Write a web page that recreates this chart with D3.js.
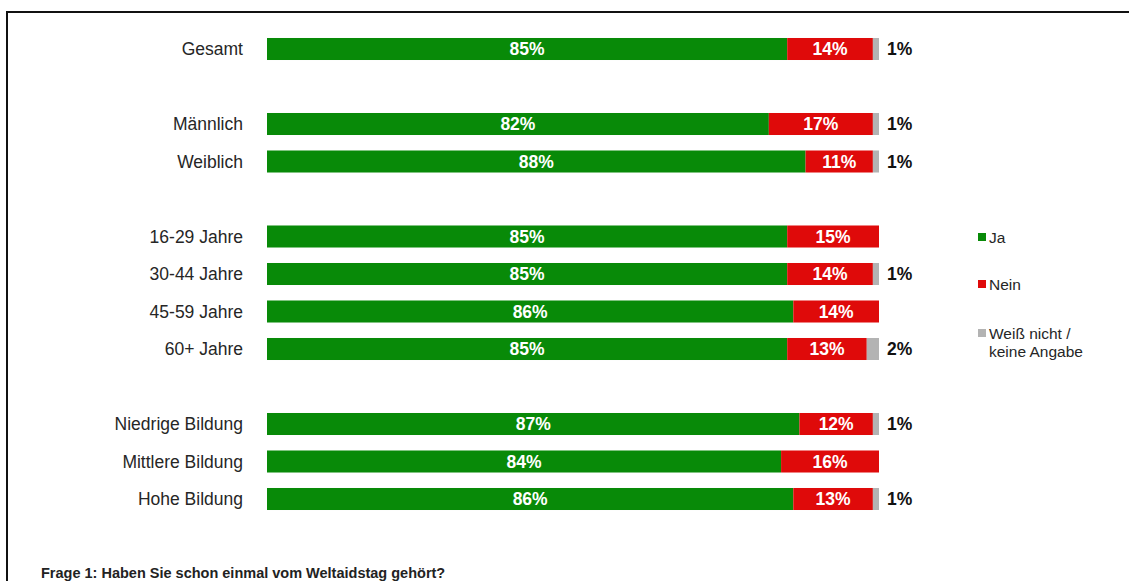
<!DOCTYPE html>
<html lang="de">
<head>
<meta charset="UTF-8"/>
<title>Weltaidstag</title>
<script src="https://d3js.org/d3.v7.min.js"></script>
<style>
  body { margin: 0; background: #fff; font-family: "Liberation Sans", Arial, sans-serif; }
</style>
</head>
<body>
<div id="chart"></div>
<script>
// Daten
var kategorien = ["Gesamt", "", "Männlich", "Weiblich", " ", "16-29 Jahre", "30-44 Jahre", "45-59 Jahre", "60+ Jahre", "  ", "Niedrige Bildung", "Mittlere Bildung", "Hohe Bildung"];
var ja     = [85, null, 82, 88, null, 85, 85, 86, 85, null, 87, 84, 86];
var nein   = [14, null, 17, 11, null, 15, 14, 14, 13, null, 12, 16, 13];
var weiss  = [1,  null, 1,  1,  null, 0,  1,  0,  2,  null, 1,  0,  1];
var serien = ["Ja", "Nein", "Weiß nicht / keine Angabe"];
var farben = ["#088a08", "#df0a0a", "#b3b3b3"];
var frage = "Frage 1: Haben Sie schon einmal vom Weltaidstag gehört?";

var width = 1129, height = 581;
var svg = d3.select("#chart").append("svg")
    .attr("width", width).attr("height", height);

// Rahmen (oben und links)
svg.append("path")
    .attr("d", "M7," + height + " V12 H" + width)
    .attr("fill", "none").attr("stroke", "#111").attr("stroke-width", 2);

var x = d3.scaleLinear().domain([0, 100]).range([267, 879]);
var y = d3.scaleBand().domain(kategorien).range([30.25, 517.75])
    .paddingInner(0.413).paddingOuter(0.2065);
var color = d3.scaleOrdinal().domain(serien).range(farben);

var rows = kategorien.map(function(k, i) {
    return {kat: k, werte: [ja[i], nein[i], weiss[i]]};
}).filter(function(d) { return d.werte[0] !== null; });

// Beschriftung links
svg.append("g").selectAll("text").data(rows).join("text")
    .attr("x", 243)
    .attr("y", function(d) { return y(d.kat) + y.bandwidth() / 2; })
    .attr("dy", "0.35em")
    .attr("text-anchor", "end")
    .attr("font-size", 17.5)
    .attr("fill", "#262626")
    .text(function(d) { return d.kat; });

var zeile = svg.append("g").selectAll("g").data(rows).join("g")
    .attr("transform", function(d) { return "translate(0," + y(d.kat) + ")"; });

zeile.each(function(d) {
    var g = d3.select(this);
    var start = 0;
    d.werte.forEach(function(v, j) {
        if (v > 0) {
            g.append("rect")
                .attr("x", x(start))
                .attr("y", 0)
                .attr("width", x(start + v) - x(start))
                .attr("height", y.bandwidth())
                .attr("fill", farben[j]);
            if (j < 2) {
                g.append("text")
                    .attr("x", (x(start) + x(start + v)) / 2)
                    .attr("y", y.bandwidth() / 2)
                    .attr("dy", "0.36em")
                    .attr("text-anchor", "middle")
                    .attr("font-size", 17.5)
                    .attr("font-weight", "bold")
                    .attr("fill", "#fff")
                    .text(v + "%");
            } else {
                g.append("text")
                    .attr("x", x(100) + 8)
                    .attr("y", y.bandwidth() / 2)
                    .attr("dy", "0.36em")
                    .attr("font-size", 17.5)
                    .attr("font-weight", "bold")
                    .attr("fill", "#111")
                    .text(v + "%");
            }
        }
        start += v;
    });
});

// Legende
var legendY = [237, 284, 333];
var legend = svg.append("g").selectAll("g").data(serien).join("g")
    .attr("transform", function(d, i) { return "translate(978," + legendY[i] + ")"; });
legend.append("rect")
    .attr("x", 0).attr("y", -4).attr("width", 8).attr("height", 8)
    .attr("fill", color);
legend.append("text")
    .attr("x", 11).attr("y", 0).attr("dy", "0.36em")
    .attr("font-size", 15.5).attr("fill", "#262626")
    .each(function(d) {
        var teile = d.split(" / ");
        var t = d3.select(this);
        if (teile.length > 1) {
            t.append("tspan").attr("x", 11).text(teile[0] + " /");
            t.append("tspan").attr("x", 11).attr("dy", "1.2em").text(teile[1]);
        } else {
            t.text(d);
        }
    });

// Fußnote
svg.append("text")
    .attr("x", 41).attr("y", 578)
    .attr("font-size", 14.5).attr("font-weight", "bold")
    .attr("fill", "#222")
    .text(frage);
</script>
</body>
</html>
